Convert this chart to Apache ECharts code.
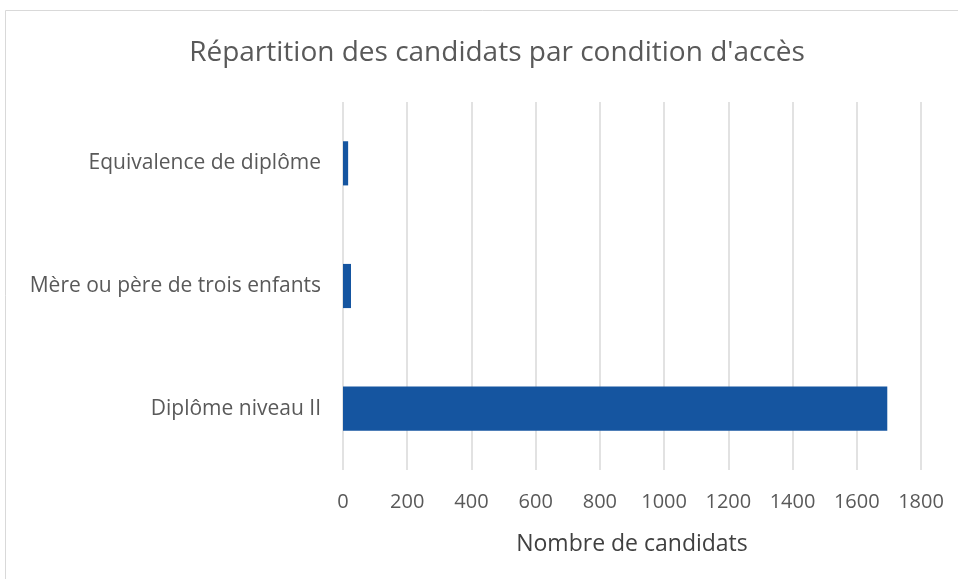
<!DOCTYPE html>
<html>
<head>
<meta charset="utf-8">
<script src="https://cdn.jsdelivr.net/npm/echarts@6/dist/echarts.min.js"></script>
<style>
  html, body { margin: 0; padding: 0; background: #fff; }
  #chart { width: 958px; height: 579px; }
</style>
</head>
<body>
<div id="chart"></div>
<script>
// categories, bottom to top as on the value axis
var categories = ['Diplôme niveau II', 'Mère ou père de trois enfants', 'Equivalence de diplôme'];
var candidats = [1695, 25, 16];
var xTicks = { min: 0, max: 1800, interval: 200 };

var myChart = echarts.init(document.getElementById('chart'));

var option = {
    backgroundColor: '#fff',
    textStyle: { fontFamily: 'Open Sans' },
    // outer chart border (cut off at right and bottom)
    graphic: [{
        type: 'rect',
        shape: { x: 5.5, y: 10.5, width: 1000, height: 700 },
        style: { fill: 'none', stroke: '#d9d9d9', lineWidth: 1 },
        silent: true
    }],
    title: {
        text: "Répartition des candidats par condition d'accès",
        left: 492,
        textAlign: 'center',
        top: 34,
        textStyle: { fontFamily: 'Open Sans', fontSize: 28, fontWeight: 'normal', color: '#595959' }
    },
    grid: { left: 343, right: 37, top: 102, bottom: 109 },
    xAxis: {
        type: 'value',
        min: xTicks.min,
        max: xTicks.max,
        interval: xTicks.interval,
        name: 'Nombre de candidats',
        nameLocation: 'middle',
        nameGap: 63,
        nameTextStyle: { fontFamily: 'Open Sans', fontSize: 23, color: '#404040' },
        axisLine: { show: false },
        axisTick: { show: false },
        axisLabel: {
            fontFamily: 'Open Sans', fontSize: 20, color: '#595959', margin: 22,
            formatter: function (v) { return String(v); }
        },
        splitLine: { lineStyle: { color: '#d9d9d9', width: 1.5 } }
    },
    yAxis: {
        type: 'category',
        data: categories,
        axisLine: { show: false },
        axisTick: { show: false },
        axisLabel: { fontFamily: 'Open Sans', fontSize: 21, color: '#595959', margin: 22 }
    },
    series: [{
        name: 'Nombre de candidats',
        type: 'bar',
        data: candidats,
        barWidth: '36%',
        itemStyle: { color: '#1555a0' }
    }]
};

myChart.setOption(option);
</script>
</body>
</html>
